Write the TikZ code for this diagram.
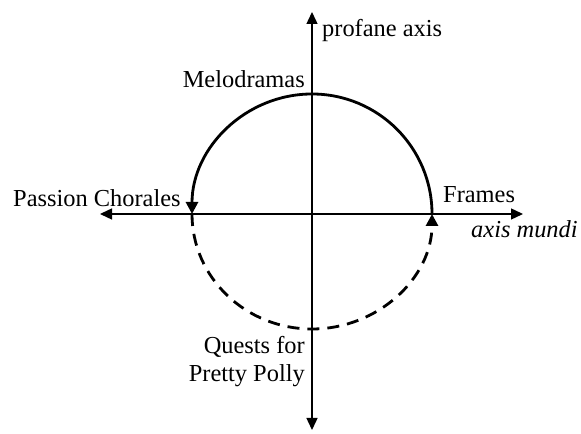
\documentclass[tikz,border=0pt]{standalone}
\usepackage{fontspec}
\setmainfont{Liberation Serif}
\usetikzlibrary{arrows.meta}

\tikzset{etq/.style={font=\fontsize{24.5}{29}\selectfont, inner sep=0pt},
         eje/.style={line width=1.4bp, {Triangle[length=12bp,width=11bp]}-{Triangle[length=12bp,width=11bp]}},
         arco/.style={line width=2.8bp, -{Triangle[length=12bp,width=12bp]}}}

\begin{document}
\begin{tikzpicture}[x=1bp, y=1bp]
  \useasboundingbox (0,0) rectangle (581,434);
  \coordinate (O) at (312,220);
  \coordinate (top) at (312,422);   \coordinate (bot) at (312,4);
  \coordinate (west) at (100,220);  \coordinate (east) at (523,220);
  \coordinate (arcR) at (432,220);  \coordinate (arcL) at (192,220);
  \draw[eje] (bot) -- (top);
  \draw[eje] (west) -- (east);
  \draw[arco] (arcR) arc[start angle=0, end angle=180, radius=120];
  \draw[arco, dash pattern=on 12bp off 8bp] (arcL) arc[start angle=180, end angle=360, x radius=120, y radius=115];
  \node[etq, anchor=base west] (profane) at (322,397) {profane axis};
  \node[etq, anchor=base east] (melo) at (305,346) {Melodramas};
  \node[etq, anchor=base west] (passion) at (13,227) {Passion Chorales};
  \node[etq, anchor=base west] (frames) at (443,231) {Frames};
  \node[etq, anchor=base west, font=\fontsize{24.5}{29}\selectfont\itshape] (mundi) at (471,196) {axis mundi};
  \node[etq, anchor=base east, align=right] (quests) at (305,52) {Quests for\\Pretty Polly};
\end{tikzpicture}
\end{document}
